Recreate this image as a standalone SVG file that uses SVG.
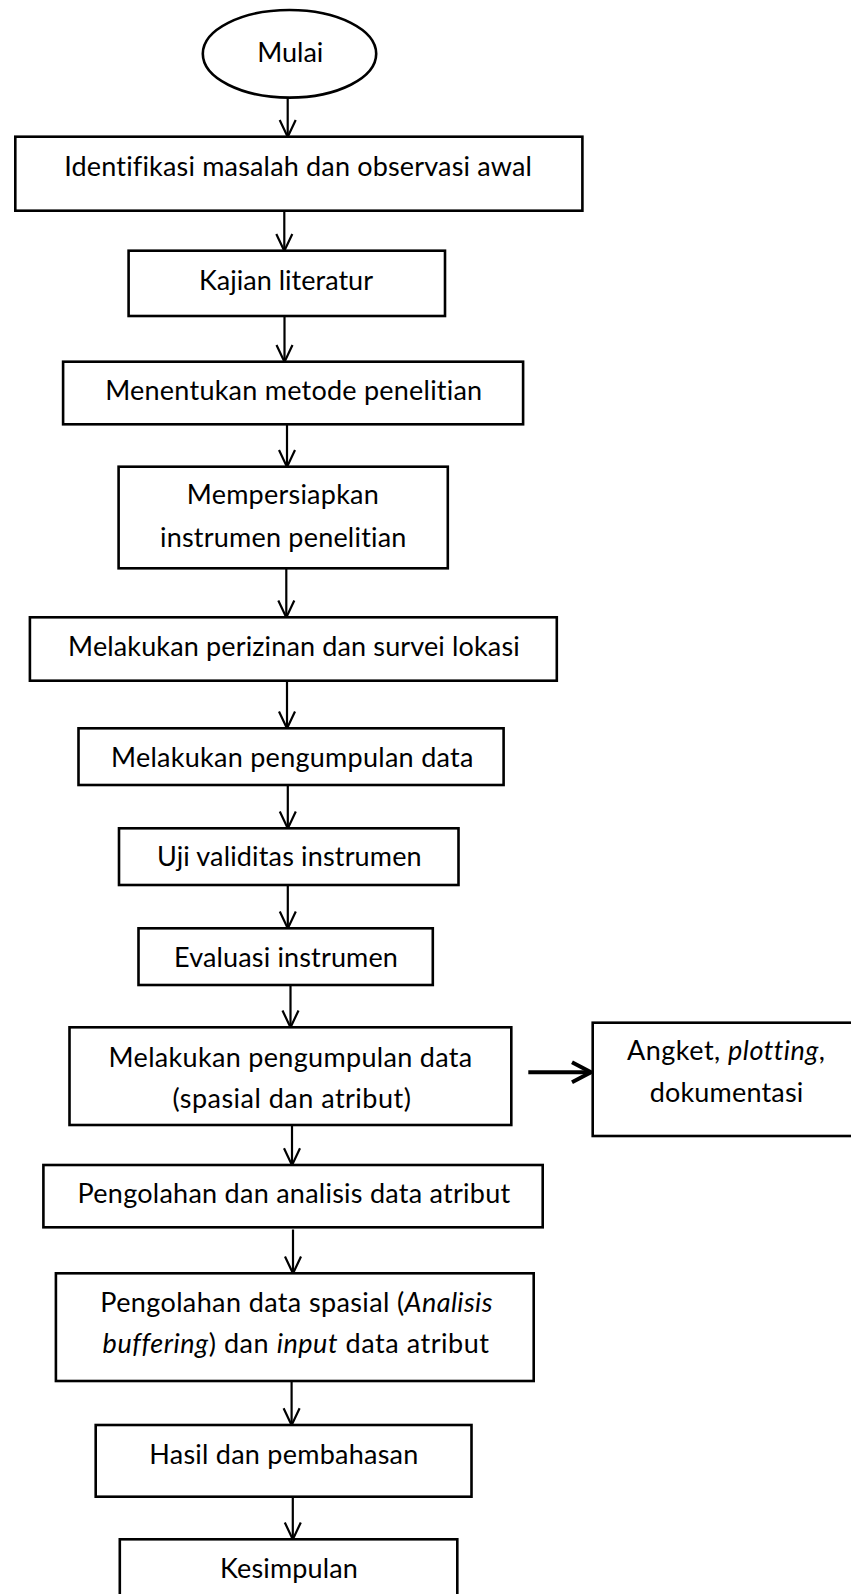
<svg xmlns="http://www.w3.org/2000/svg" width="851" height="1594" viewBox="0 0 851 1594">
<defs>
<style>
.box{fill:#fff;stroke:#000;stroke-width:2.6}
.t{font-family:Lato,"Liberation Sans",sans-serif;font-size:27px;fill:#000;text-anchor:middle;font-variant-ligatures:none;font-feature-settings:"liga" 0,"clig" 0,"dlig" 0}
.i{font-style:italic}
.c{fill:none;stroke:#000;stroke-width:2.2}
.cs{fill:none;stroke:#000;stroke-width:4}
</style>
<marker id="ah" markerUnits="userSpaceOnUse" viewBox="-20 -10 22 20" refX="0" refY="0" markerWidth="22" markerHeight="20" orient="auto" overflow="visible">
<path d="M-17,-8 L0,0 L-17,8" fill="none" stroke="#000" stroke-width="2.2"/>
</marker>
<marker id="ahs" markerUnits="userSpaceOnUse" viewBox="-22 -12 24 24" refX="0" refY="0" markerWidth="24" markerHeight="24" orient="auto" overflow="visible">
<path d="M-19,-10 L0,0 L-19,10" fill="none" stroke="#000" stroke-width="4"/>
</marker>
</defs>
<rect x="0" y="0" width="851" height="1594" fill="#fff"/>
<g id="connectors">
<line class="c" x1="287.7" y1="97.7" x2="287.7" y2="137" marker-end="url(#ah)"/>
<line class="c" x1="284.3" y1="210.7" x2="284.3" y2="251" marker-end="url(#ah)"/>
<line class="c" x1="284.5" y1="316" x2="284.5" y2="362" marker-end="url(#ah)"/>
<line class="c" x1="287" y1="424.3" x2="287" y2="467" marker-end="url(#ah)"/>
<line class="c" x1="286.3" y1="568.3" x2="286.3" y2="617.5" marker-end="url(#ah)"/>
<line class="c" x1="287" y1="680.7" x2="287" y2="728.5" marker-end="url(#ah)"/>
<line class="c" x1="287.8" y1="785" x2="287.8" y2="828.5" marker-end="url(#ah)"/>
<line class="c" x1="287.8" y1="885" x2="287.8" y2="928.5" marker-end="url(#ah)"/>
<line class="c" x1="290.5" y1="985" x2="290.5" y2="1027.5" marker-end="url(#ah)"/>
<line class="c" x1="292" y1="1125" x2="292" y2="1165.2" marker-end="url(#ah)"/>
<line class="c" x1="293" y1="1229.5" x2="293" y2="1273.5" marker-end="url(#ah)"/>
<line class="c" x1="291.6" y1="1381" x2="291.6" y2="1425.2" marker-end="url(#ah)"/>
<line class="c" x1="292.8" y1="1496.7" x2="292.8" y2="1539.5" marker-end="url(#ah)"/>
<line class="cs" x1="528.3" y1="1072.3" x2="591" y2="1072.3" marker-end="url(#ahs)"/>
</g>
<g id="n0">
<ellipse class="box" cx="289.5" cy="53.8" rx="86.7" ry="43.8"/>
<text class="t" x="290.3" y="61.7" textLength="66">Mulai</text>
</g>
<g id="n1">
<rect class="box" x="15.3" y="136.7" width="567.1" height="74"/>
<text class="t" x="298.1" y="175.7" textLength="467.7">Identifikasi masalah dan observasi awal</text>
</g>
<g id="n2">
<rect class="box" x="128.6" y="250.7" width="316.4" height="65.3"/>
<text class="t" x="286" y="290" textLength="174">Kajian literatur</text>
</g>
<g id="n3">
<rect class="box" x="63.1" y="361.7" width="460" height="62.6"/>
<text class="t" x="293.7" y="400" textLength="377">Menentukan metode penelitian</text>
</g>
<g id="n4">
<rect class="box" x="118.6" y="466.7" width="329.2" height="101.6"/>
<text class="t" x="282.8" y="504" textLength="192">Mempersiapkan</text>
<text class="t" x="283.2" y="546.7" textLength="246.4">instrumen penelitian</text>
</g>
<g id="n5">
<rect class="box" x="29.9" y="617.3" width="526.9" height="63.4"/>
<text class="t" x="293.9" y="656" textLength="451.6">Melakukan perizinan dan survei lokasi</text>
</g>
<g id="n6">
<rect class="box" x="78.5" y="728.3" width="425.1" height="56.7"/>
<text class="t" x="292.2" y="767.3" textLength="362.4">Melakukan pengumpulan data</text>
</g>
<g id="n7">
<rect class="box" x="119" y="828.3" width="339.5" height="56.7"/>
<text class="t" x="289.3" y="866" textLength="264.8">Uji validitas instrumen</text>
</g>
<g id="n8">
<rect class="box" x="138.5" y="928.3" width="294.3" height="56.7"/>
<text class="t" x="286" y="966.7" textLength="223.9">Evaluasi instrumen</text>
</g>
<g id="n9">
<rect class="box" x="69.5" y="1027.3" width="441.8" height="97.7"/>
<text class="t" x="290.4" y="1066.7" textLength="363.6">Melakukan pengumpulan data</text>
<text class="t" x="291.7" y="1108" textLength="238.3">(spasial dan atribut)</text>
</g>
<g id="n9b">
<rect class="box" x="592.7" y="1022.7" width="270" height="113.3"/>
<text class="t" x="726" y="1060" textLength="198">Angket, <tspan class="i">plotting</tspan>,</text>
<text class="t" x="726.5" y="1101.7" textLength="153.6">dokumentasi</text>
</g>
<g id="n10">
<rect class="box" x="43.4" y="1165" width="499.3" height="62.3"/>
<text class="t" x="293.9" y="1203.3" textLength="432.6">Pengolahan dan analisis data atribut</text>
</g>
<g id="n11">
<rect class="box" x="55.9" y="1273.3" width="477.8" height="107.7"/>
<text class="t" x="296.4" y="1311.7" textLength="392.2">Pengolahan data spasial (<tspan class="i">Analisis</tspan></text>
<text class="t" x="295.8" y="1353.3" textLength="386.5"><tspan class="i">buffering</tspan>) dan <tspan class="i">input</tspan> data atribut</text>
</g>
<g id="n12">
<rect class="box" x="95.7" y="1425" width="375.8" height="71.7"/>
<text class="t" x="283.8" y="1464.3" textLength="269">Hasil dan pembahasan</text>
</g>
<g id="n13">
<rect class="box" x="119.8" y="1539.3" width="337.5" height="70"/>
<text class="t" x="289" y="1578.3" textLength="137.8">Kesimpulan</text>
</g>
</svg>
